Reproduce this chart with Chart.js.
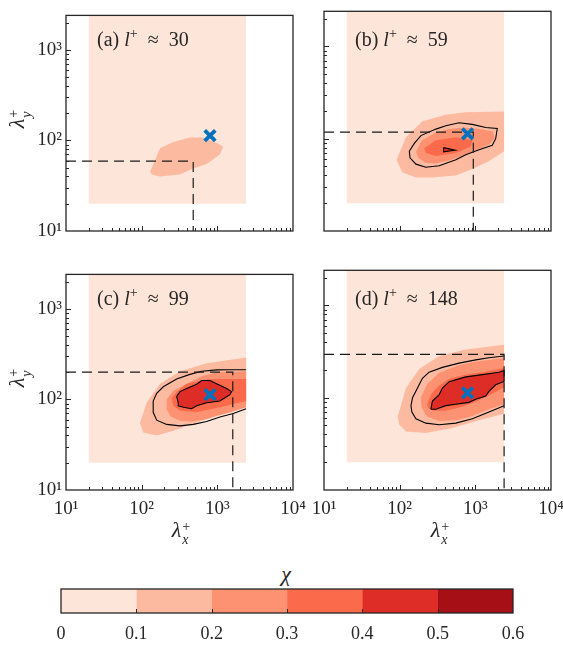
<!DOCTYPE html>
<html>
<head>
<meta charset="utf-8">
<script src="https://cdn.jsdelivr.net/npm/chart.js@4.4.1/dist/chart.umd.min.js"></script>
<style>
body { margin: 0; width: 563px; height: 645px; position: relative; background: #fff; overflow: hidden;
  font-family: 'Liberation Serif', 'Times New Roman', 'DejaVu Serif', serif; color: #262626; }
canvas { position: absolute; }
.tag { position: absolute; font-size: 20px; line-height: 20px; white-space: nowrap; }
.tag sup { font-size: 14px; line-height: 0; vertical-align: 0; position: relative; top: -8px; }
.title { position: absolute; font-size: 22px; line-height: 22px; white-space: nowrap; }
.ss { display: inline-block; font-size: 14px; line-height: 13px; vertical-align: -7px; margin-left: 1px; }
.ss span { display: block; }
</style>
</head>
<body>
<script>
// colour levels of chi
const levels = [0, 0.1, 0.2, 0.3, 0.4, 0.5, 0.6]
const reds = ['#fee5d9', '#fcbba1', '#fc9272', '#fb6a4a', '#de2d26', '#a50f15']

const tags = ['(a)', '(b)', '(c)', '(d)']
const lPlus = [30, 59, 99, 148]

// sampled box (chi >= 0 everywhere inside)
const boxX = [20, 2400]
const boxY = [20, 2400]

// peak markers
const peakX = [800, 790, 800, 790]
const peakY = [113, 113, 113, 113]

// dashed guide lines
const dashX = [480, 940, 1600, 2400]
const dashY = [59, 118, 200, 295]

// (a)
const aLevel1 = [[129, 45], [175, 82], [261, 96], [434, 108], [651, 108], [1028, 92], [1197, 85], [1082, 70],
  [722, 55], [480, 49], [320, 42], [175, 40], [136, 42]]

// (b)
const bLevel1 = [[91, 59], [121, 104], [200, 155], [407, 182], [747, 194], [2400, 197], [2400, 73], [1514, 57],
  [913, 47], [552, 40], [271, 38], [164, 38], [109, 43], [94, 55]]
const bLevel2 = [[165, 72], [195, 95], [300, 117], [450, 127], [700, 132], [1100, 128], [1700, 120], [1800, 100],
  [1500, 86], [1000, 75], [700, 66], [450, 58], [300, 54], [220, 55], [175, 62]]
const bLevel3 = [[211, 79], [301, 96], [552, 104], [913, 96], [869, 82], [552, 70], [301, 65], [222, 70]]
const bLevel4 = [[380, 80], [540, 75], [380, 72]]
const bLine = [[134, 73], [156, 89], [191, 108], [301, 127], [407, 138], [610, 149], [913, 143], [1371, 132],
  [1950, 129], [1857, 100], [1675, 85], [1119, 76], [747, 67], [552, 59], [333, 51], [222, 49], [164, 53], [137, 62]]

// (c)
const cLevel1 = [[95, 55], [116, 92], [175, 149], [321, 205], [722, 251], [2400, 290], [2400, 92], [589, 57],
  [261, 45], [158, 40], [105, 43]]
const cLevel2 = [[214, 100], [260, 125], [400, 150], [620, 180], [1000, 200], [2400, 205], [2400, 82], [1500, 72],
  [1000, 66], [700, 60], [450, 57], [320, 58], [240, 65], [210, 80]]
const cLevel3 = [[249, 104], [300, 125], [393, 149], [600, 162], [883, 168], [2400, 168], [2400, 96], [1082, 82],
  [533, 72], [321, 75], [261, 85]]
const cLevel4 = [[290, 108], [321, 122], [393, 132], [533, 147], [621, 162], [798, 162], [979, 149], [1327, 132],
  [1545, 122], [1467, 113], [1082, 96], [722, 92], [533, 85], [457, 79], [355, 82], [304, 85], [304, 92]]
const cOuter = [[2400, 213], [1467, 213], [979, 212], [621, 205], [434, 189], [290, 168], [193, 138], [158, 117],
  [142, 96], [142, 72], [158, 59], [214, 53], [321, 51], [481, 53], [722, 57], [1082, 64], [1622, 70], [2400, 79]]

// (d)
const dLevel1 = [[94, 62], [121, 127], [181, 205], [333, 283], [747, 332], [2400, 374], [2400, 67], [1119, 57],
  [498, 47], [222, 41.5], [121, 43], [99, 51]]
const dLevel2 = [[190, 100], [230, 140], [330, 185], [600, 225], [1000, 245], [2400, 270], [2400, 85], [1500, 75],
  [900, 63], [550, 57], [330, 56], [230, 62], [195, 78]]
const dLevel3 = [[230, 85], [260, 110], [330, 135], [450, 160], [750, 178], [1300, 190], [2400, 210], [2400, 130],
  [1500, 105], [1000, 90], [600, 78], [400, 72], [280, 72], [240, 77]]
const dLevel4 = [[258, 75], [271, 92], [333, 108], [367, 127], [450, 149], [747, 168], [1237, 178], [2051, 189],
  [2400, 197], [2400, 150], [1857, 138], [1514, 117], [1371, 104], [1012, 96], [826, 89], [552, 85], [407, 82], [301, 75]]
const dOuter = [[2400, 283], [1514, 271], [1012, 257], [610, 237], [367, 213], [245, 189], [200, 162], [172, 127],
  [148, 100], [141, 82], [145, 70], [164, 59], [222, 53], [333, 51], [552, 53], [913, 59], [1514, 70], [2400, 82]]

// per panel: filled levels [polygon, level], contour lines [polyline, closed?]
const panelFills = [
  [[aLevel1, 1]],
  [[bLevel1, 1], [bLevel2, 2], [bLevel3, 3], [bLevel4, 4]],
  [[cLevel1, 1], [cLevel2, 2], [cLevel3, 3], [cLevel4, 4]],
  [[dLevel1, 1], [dLevel2, 2], [dLevel3, 3], [dLevel4, 4]]
]
const panelLines = [
  [],
  [[bLine, true], [bLevel4, true]],
  [[cOuter, false], [cLevel4, true]],
  [[dOuter, false], [dLevel4, true]]
]

const X_MIN = 10, X_MAX = 10000, Y_MIN = 10, Y_MAX = 2400
const axisColor = '#262626'
const serif = "'Liberation Serif', 'Times New Roman', serif"
const sup = ['\u2070', '\u00b9', '\u00b2', '\u00b3', '\u2074']

// layout (plot areas on the page)
const areas = [
  { l: 66, t: 3, showX: false, showY: true },
  { l: 324, t: 3, showX: false, showY: false },
  { l: 66, t: 262, showX: true, showY: true },
  { l: 324, t: 262, showX: true, showY: false }
]
const AW = 227, AH = 228, ML = 66, MR = 22, MT = 3, MB = 35

const mk = (left, top, w, h) => {
    const c = document.createElement('canvas')
    c.width = w
    c.height = h
    c.style.left = left + 'px'
    c.style.top = top + 'px'
    document.body.appendChild(c)
    return c
}

const pts = (arr, close) => (close ? arr.concat([arr[0]]) : arr).map(p => ({ x: p[0], y: p[1] }))

const decade = v => {
    const e = Math.log10(v)
    return Math.abs(e - Math.round(e)) < 1e-9 ? '10' + sup[Math.round(e)] : ''
}

const frame = {
    id: 'frame',
    afterDraw(chart) {
        const { ctx, chartArea: a, scales: { x, y } } = chart
        ctx.save()
        ctx.strokeStyle = axisColor
        ctx.lineWidth = 1
        ctx.beginPath()
        for (let e = 1; e < 4; e++) {
            for (let m = 1; m < 10; m++) {
                const v = m * Math.pow(10, e)
                const len = m === 1 ? 5 : 3
                if (v > X_MIN && v < X_MAX) {
                    const px = Math.round(x.getPixelForValue(v)) + 0.5
                    ctx.moveTo(px, a.bottom)
                    ctx.lineTo(px, a.bottom - len)
                }
                if (v > Y_MIN && v < Y_MAX) {
                    const py = Math.round(y.getPixelForValue(v)) + 0.5
                    ctx.moveTo(a.left, py)
                    ctx.lineTo(a.left + len, py)
                }
            }
        }
        ctx.stroke()
        ctx.lineWidth = 1.3
        ctx.strokeRect(a.left, a.top, a.right - a.left, a.bottom - a.top)
        ctx.restore()
    }
}

const makePanel = i => {
    const ar = areas[i]
    const canvas = mk(ar.l - ML, ar.t - MT, ML + AW + MR, MT + AH + MB)
    const datasets = []
    const rect = [[boxX[0], boxY[0]], [boxX[1], boxY[0]], [boxX[1], boxY[1]], [boxX[0], boxY[1]]]
    datasets.push({ data: pts(rect, true), fill: 'shape', backgroundColor: reds[0], borderWidth: 0 })
    panelFills[i].forEach(([poly, lev]) => {
        datasets.push({ data: pts(poly, true), fill: 'shape', backgroundColor: reds[lev], borderWidth: 0 })
    })
    panelLines[i].forEach(([poly, closed]) => {
        datasets.push({ data: pts(poly, closed), fill: false, borderColor: '#000', borderWidth: 1.1 })
    })
    datasets.push({
        data: [{ x: X_MIN, y: dashY[i] }, { x: dashX[i], y: dashY[i] }, { x: dashX[i], y: Y_MIN }],
        fill: false, borderColor: '#1a1a1a', borderWidth: 1.2, borderDash: [10, 6]
    })
    datasets.push({
        data: [{ x: peakX[i], y: peakY[i] }], showLine: false, pointStyle: 'crossRot', pointRadius: 7.5,
        pointBorderWidth: 3.8, pointBorderColor: '#0072BD', pointBackgroundColor: '#0072BD'
    })
    datasets.forEach((d, k) => { d.order = datasets.length - k })

    new Chart(canvas, {
        type: 'line',
        data: { datasets },
        options: {
            responsive: false,
            animation: false,
            events: [],
            devicePixelRatio: 1,
            layout: { padding: { left: 0, top: MT, right: MR, bottom: 0 } },
            elements: { point: { radius: 0 }, line: { tension: 0 } },
            plugins: { legend: { display: false }, tooltip: { enabled: false } },
            scales: {
                x: {
                    type: 'logarithmic', position: 'bottom', min: X_MIN, max: X_MAX,
                    grid: { display: false, drawTicks: false }, border: { display: false },
                    ticks: {
                        display: ar.showX, autoSkip: false, maxRotation: 0, padding: 8, color: axisColor,
                        font: { family: serif, size: 19 }, callback: v => decade(v)
                    },
                    afterFit: s => { s.height = MB }
                },
                y: {
                    type: 'logarithmic', min: Y_MIN, max: Y_MAX,
                    grid: { display: false, drawTicks: false }, border: { display: false },
                    ticks: {
                        display: ar.showY, autoSkip: false, padding: 4, color: axisColor,
                        font: { family: serif, size: 19 }, callback: v => decade(v)
                    },
                    afterFit: s => { s.width = ML }
                }
            }
        },
        plugins: [frame]
    })

    const tag = document.createElement('div')
    tag.className = 'tag'
    tag.style.left = (ar.l + 31) + 'px'
    tag.style.top = (ar.t + 26) + 'px'
    tag.innerHTML = tags[i] + ' <i>l</i><sup>+</sup>&nbsp; \u2248 &nbsp;' + lPlus[i]
    document.body.appendChild(tag)
}

for (let i = 0; i < 4; i++) makePanel(i)

// axis titles
const addTitle = (html, cx, cy, rot) => {
    const el = document.createElement('div')
    el.className = 'title'
    el.innerHTML = html
    el.style.left = cx + 'px'
    el.style.top = cy + 'px'
    el.style.transform = 'translate(-50%, -50%)' + (rot ? ' rotate(-90deg)' : '')
    document.body.appendChild(el)
}
const lam = s => '<i>\u03bb</i><span class="ss"><span>+</span><span><i>' + s + '</i></span></span>'
addTitle(lam('y'), 19, 119, true)
addTitle(lam('y'), 19, 378, true)
addTitle(lam('x'), 181, 532, false)
addTitle(lam('x'), 440, 532, false)
addTitle('<i>\u03c7</i>', 286, 574, false)

// colour bar
const cbFrame = {
    id: 'cbFrame',
    afterDraw(chart) {
        const { ctx, chartArea: a, scales: { x } } = chart
        ctx.save()
        ctx.strokeStyle = axisColor
        ctx.lineWidth = 1
        ctx.beginPath()
        levels.slice(1, -1).forEach(v => {
            const px = Math.round(x.getPixelForValue(v)) + 0.5
            ctx.moveTo(px, a.bottom)
            ctx.lineTo(px, a.bottom - 4)
        })
        ctx.stroke()
        ctx.lineWidth = 1.3
        ctx.strokeRect(a.left, a.top, a.right - a.left, a.bottom - a.top)
        ctx.restore()
    }
}

new Chart(mk(0, 580, 563, 65), {
    type: 'bar',
    data: {
        labels: [''],
        datasets: reds.map((c, i) => ({
            data: [[levels[i], levels[i + 1]]], backgroundColor: c, borderWidth: 0,
            barPercentage: 1, categoryPercentage: 1, grouped: false
        }))
    },
    options: {
        indexAxis: 'y',
        responsive: false,
        animation: false,
        events: [],
        devicePixelRatio: 1,
        layout: { padding: { left: 61, right: 50, top: 9, bottom: 0 } },
        plugins: { legend: { display: false }, tooltip: { enabled: false } },
        scales: {
            x: {
                type: 'linear', min: 0, max: 0.6,
                grid: { display: false, drawTicks: false }, border: { display: false },
                ticks: {
                    stepSize: 0.1, padding: 10, color: axisColor, font: { family: serif, size: 18 },
                    callback: v => String(+v.toFixed(1))
                },
                afterFit: s => { s.height = 32 }
            },
            y: { display: false }
        }
    },
    plugins: [cbFrame]
})
</script>
</body>
</html>
